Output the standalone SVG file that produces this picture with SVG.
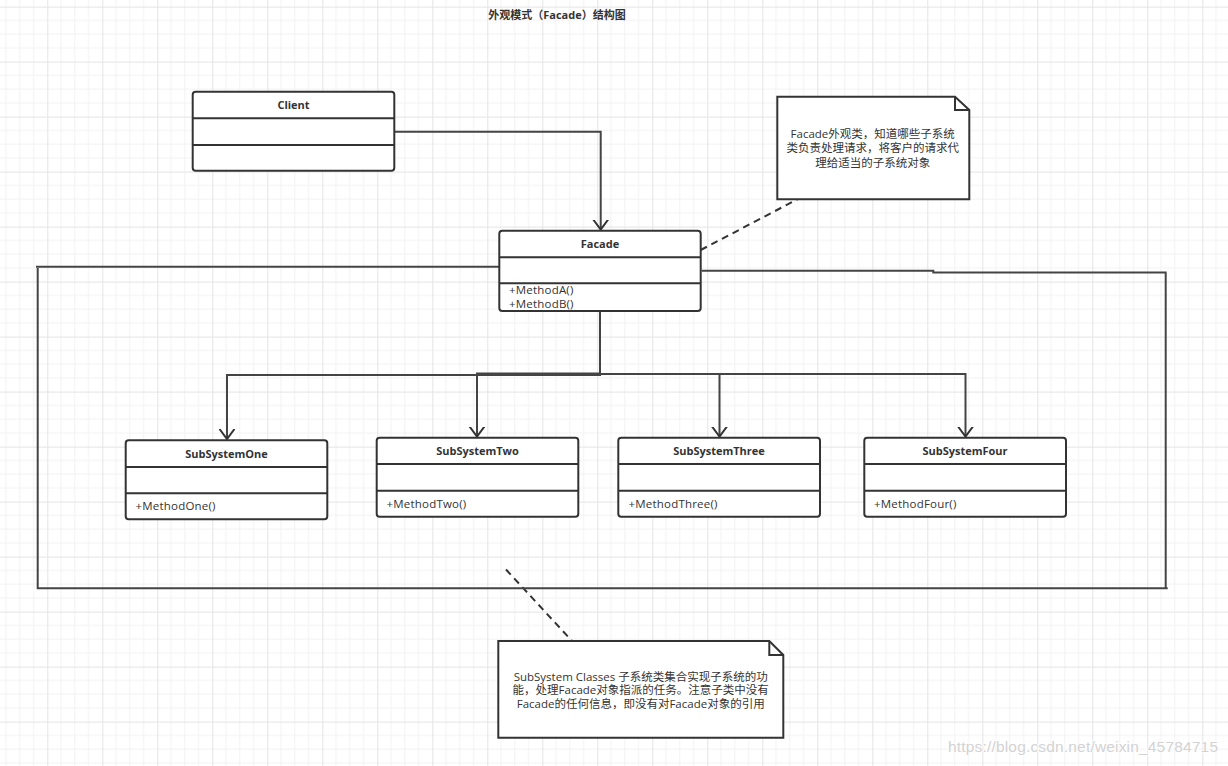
<svg xmlns="http://www.w3.org/2000/svg" width="1228" height="766" viewBox="0 0 1228 766">
<style>
.box{fill:#fff;stroke:#333;stroke-width:2}
.div{stroke:#333;stroke-width:2;fill:none}
.ttl{font-family:"Open Sans","Noto Sans CJK SC",sans-serif;font-size:11px;font-weight:bold;fill:#333;text-anchor:middle}
.mth{font-family:"Open Sans","Noto Sans CJK SC",sans-serif;font-size:11.5px;letter-spacing:0.2px;fill:#333}
.note{fill:#fff;stroke:#333;stroke-width:2}
.ntx{font-family:"Open Sans","Noto Sans CJK SC",sans-serif;font-size:11.5px;fill:#333;text-anchor:middle}
.ln{fill:none;stroke:#444;stroke-width:2}
.dash{fill:none;stroke:#333;stroke-width:2;stroke-dasharray:7,5}
</style>
<defs>
<pattern id="grid" patternUnits="userSpaceOnUse" x="47.3" y="6.6" width="55" height="55">
<path d="M13.75,0V55M27.5,0V55M41.25,0V55M0,13.75H55M0,27.5H55M0,41.25H55" stroke="#f2f2f2" stroke-width="1" fill="none"/>
<path d="M0.5,0V55M0,0.5H55" stroke="#e4e4e4" stroke-width="1" fill="none"/>
</pattern>
<marker id="arr" markerUnits="userSpaceOnUse" markerWidth="20" markerHeight="20" refX="10" refY="10" orient="auto">
<path d="M0,2.5 L10,10 L0,17.5" fill="none" stroke="#333" stroke-width="2"/>
</marker>
</defs>
<rect x="0" y="0" width="1228" height="766" fill="#fff"/>
<rect x="0" y="0" width="1228" height="766" fill="url(#grid)"/>

<text x="557" y="19" class="ttl">外观模式（Facade）结构图</text>

<g id="connectors">
<path class="ln" d="M394,131.7 H600.7 V229.5" marker-end="url(#arr)"/>
<path class="ln" d="M600,311 V375 H227 V439" marker-end="url(#arr)" stroke-width="2.5"/>
<path class="ln" d="M600,311 V373.5 H477 V436.5" marker-end="url(#arr)"/>
<path class="ln" d="M600,311 V374 H719.5 V436.5" marker-end="url(#arr)"/>
<path class="ln" d="M600,374 H965.5 V436.5" marker-end="url(#arr)"/>
<path class="ln" d="M600,311 V376" stroke-width="3.2"/>
<path class="ln" d="M477,374.3 H601.5" stroke-width="3"/>
<path class="dash" d="M700.7,250 L799.3,198.3"/>
<path class="dash" d="M506,569.5 L577.3,646.7"/>
<path class="ln" d="M36,266.7 H503"/>
<path class="ln" d="M37.7,268 V588.3 H1167.7" stroke-width="2.2"/>
<path class="ln" d="M701.7,270.7 H933.3 V272.5 H1165.7 V588.5"/>
</g>

<g id="client">
<rect class="box" x="192.7" y="91.7" width="201.6" height="79" rx="3"/>
<path class="div" d="M192.7,118.3 H394.3 M192.7,145 H394.3"/>
<text x="293.5" y="109" class="ttl">Client</text>
</g>

<g id="facade">
<rect class="box" x="499.3" y="230.7" width="201.4" height="80.3" rx="3"/>
<path class="div" d="M499.3,257.3 H700.7 M499.3,283.3 H700.7"/>
<text x="600" y="248" class="ttl">Facade</text>
<text x="509" y="294" class="mth">+MethodA()</text>
<text x="509" y="308" class="mth">+MethodB()</text>
</g>

<g id="subSystemOne">
<rect class="box" x="125.7" y="440.3" width="201.6" height="79" rx="3"/>
<path class="div" d="M125.7,467 H327.3 M125.7,493.3 H327.3"/>
<text x="226.5" y="458" class="ttl">SubSystemOne</text>
<text x="135.5" y="510" class="mth">+MethodOne()</text>
</g>

<g id="subSystemTwo">
<rect class="box" x="376.7" y="437.7" width="201.6" height="79" rx="3"/>
<path class="div" d="M376.7,464 H578.3 M376.7,490.7 H578.3"/>
<text x="477.5" y="455" class="ttl">SubSystemTwo</text>
<text x="386.5" y="508" class="mth">+MethodTwo()</text>
</g>

<g id="subSystemThree">
<rect class="box" x="618.3" y="437.7" width="201.7" height="79" rx="3"/>
<path class="div" d="M618.3,464 H820 M618.3,490.7 H820"/>
<text x="719" y="455" class="ttl">SubSystemThree</text>
<text x="628.5" y="508" class="mth">+MethodThree()</text>
</g>

<g id="subSystemFour">
<rect class="box" x="864.3" y="437.7" width="201.7" height="79" rx="3"/>
<path class="div" d="M864.3,464 H1066 M864.3,490.7 H1066"/>
<text x="965" y="455" class="ttl">SubSystemFour</text>
<text x="874" y="508" class="mth">+MethodFour()</text>
</g>

<g id="noteFacade">
<path class="note" d="M777.3,96.7 H955 L969.3,110 V199.3 H777.3 Z"/>
<path class="div" d="M955,96.7 V110 H969.3"/>
<text x="872.7" y="138.3" class="ntx">Facade外观类，知道哪些子系统</text>
<text x="872.7" y="152.3" class="ntx">类负责处理请求，将客户的请求代</text>
<text x="872.7" y="166.5" class="ntx">理给适当的子系统对象</text>
</g>

<g id="noteSubSystem">
<path class="note" d="M498.3,641 H769.3 L783.3,655 V737.7 H498.3 Z"/>
<path class="div" d="M769.3,641 V655 H783.3"/>
<text x="640.7" y="680.5" class="ntx">SubSystem Classes 子系统类集合实现子系统的功</text>
<text x="640.7" y="694" class="ntx">能，处理Facade对象指派的任务。注意子类中没有</text>
<text x="640.7" y="708" class="ntx">Facade的任何信息，即没有对Facade对象的引用</text>
</g>

<text x="948" y="752" font-family="Liberation Sans, Arial, sans-serif" font-size="15.5" fill="#d2d2d2" stroke="#fff" stroke-width="1.5" paint-order="stroke" textLength="270">https://blog.csdn.net/weixin_45784715</text>
</svg>
